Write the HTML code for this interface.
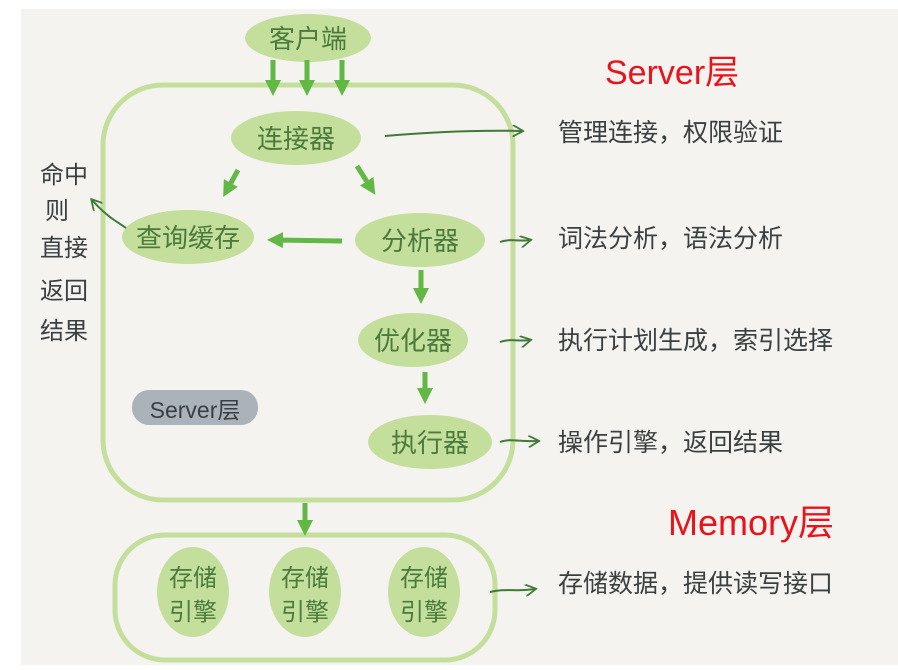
<!DOCTYPE html>
<html><head><meta charset="utf-8"><style>
body{margin:0;background:#fff}
svg{display:block}
.h{font-family:"Liberation Sans","Noto Sans CJK SC",sans-serif}
</style></head><body>
<svg width="898" height="670" viewBox="0 0 898 670" xmlns="http://www.w3.org/2000/svg" class="h">
<defs>
<marker id="g" viewBox="0 0 10 10" refX="5" refY="5" markerWidth="3.2" markerHeight="3.2" orient="auto"><path d="M0,0 L10,5 L0,10 z" fill="#62b845"/></marker>
<marker id="d" viewBox="0 0 10 10" refX="8" refY="5" markerWidth="6" markerHeight="6" orient="auto"><path d="M0,0 L9,5 L0,10" fill="none" stroke="#3f7a37" stroke-width="1.5"/></marker>
</defs>
<rect x="21" y="9" width="877" height="656" fill="#f4f3f0"/>
<rect x="103" y="85" width="410" height="415" rx="60" fill="none" stroke="#c4df9c" stroke-width="5"/>
<rect x="115" y="535" width="380" height="125" rx="50" fill="none" stroke="#c4df9c" stroke-width="5"/>
<g fill="#c4df9c">
<ellipse cx="308" cy="38" rx="63" ry="24"/>
<ellipse cx="296" cy="138" rx="65" ry="27"/>
<ellipse cx="188" cy="237" rx="66" ry="27"/>
<ellipse cx="420" cy="240" rx="65" ry="27"/>
<ellipse cx="413" cy="340" rx="55" ry="27"/>
<ellipse cx="430" cy="442" rx="62" ry="27"/>
<ellipse cx="193" cy="592" rx="36" ry="45"/>
<ellipse cx="305" cy="592" rx="36" ry="45"/>
<ellipse cx="424" cy="592" rx="36" ry="45"/>
</g>
<rect x="132" y="390" width="126" height="35" rx="17" fill="#aab3b9"/>
<g font-size="26" fill="#4a7a3c" text-anchor="middle">
<text x="308" y="48">客户端</text>
<text x="296" y="148">连接器</text>
<text x="188" y="247">查询缓存</text>
<text x="420" y="250">分析器</text>
<text x="413" y="350">优化器</text>
<text x="430" y="452">执行器</text>
<g font-size="24"><text x="193" y="586">存储</text><text x="193" y="620">引擎</text>
<text x="305" y="586">存储</text><text x="305" y="620">引擎</text>
<text x="424" y="586">存储</text><text x="424" y="620">引擎</text></g>
</g>
<text x="195" y="418" font-size="23" fill="#3a3f42" text-anchor="middle">Server层</text>
<g stroke="#62b845" stroke-width="5" marker-end="url(#g)" fill="none">
<line x1="273" y1="60" x2="273" y2="88"/>
<line x1="307" y1="60" x2="307" y2="88"/>
<line x1="342" y1="60" x2="342" y2="88"/>
<line x1="238" y1="170" x2="227" y2="190"/>
<line x1="357" y1="166" x2="371" y2="188"/>
<line x1="342" y1="241" x2="275" y2="240"/>
<line x1="421" y1="270" x2="421" y2="296"/>
<line x1="425" y1="372" x2="425" y2="396"/>
<line x1="305" y1="503" x2="305" y2="528"/>
</g>
<g stroke="#3f7a37" stroke-width="2" fill="none" marker-end="url(#d)">
<path d="M385,136 C430,132 480,130 522,131"/>
<path d="M126,228 C118,222 108,218 92,200"/>
<path d="M500,242 C510,238 520,242 530,240"/>
<path d="M500,342 C510,338 520,342 530,340"/>
<path d="M500,442 C510,438 520,442 538,441"/>
<path d="M490,592 C505,588 515,592 535,589"/>
</g>
<g font-size="25" fill="#3a3f3f">
<text x="558" y="141">管理连接，权限验证</text>
<text x="558" y="247">词法分析，语法分析</text>
<text x="558" y="349">执行计划生成，索引选择</text>
<text x="558" y="451">操作引擎，返回结果</text>
<text x="558" y="592">存储数据，提供读写接口</text>
</g>
<g font-size="24" fill="#3a3f3f">
<text x="40" y="183">命中</text>
<text x="45" y="219">则</text>
<text x="40" y="256">直接</text>
<text x="40" y="299">返回</text>
<text x="40" y="339">结果</text>
</g>
<text x="605" y="84" font-size="34" fill="#e8141b">Server层</text>
<text x="668" y="535" font-size="36" fill="#e8141b">Memory层</text>
</svg>
</body></html>
